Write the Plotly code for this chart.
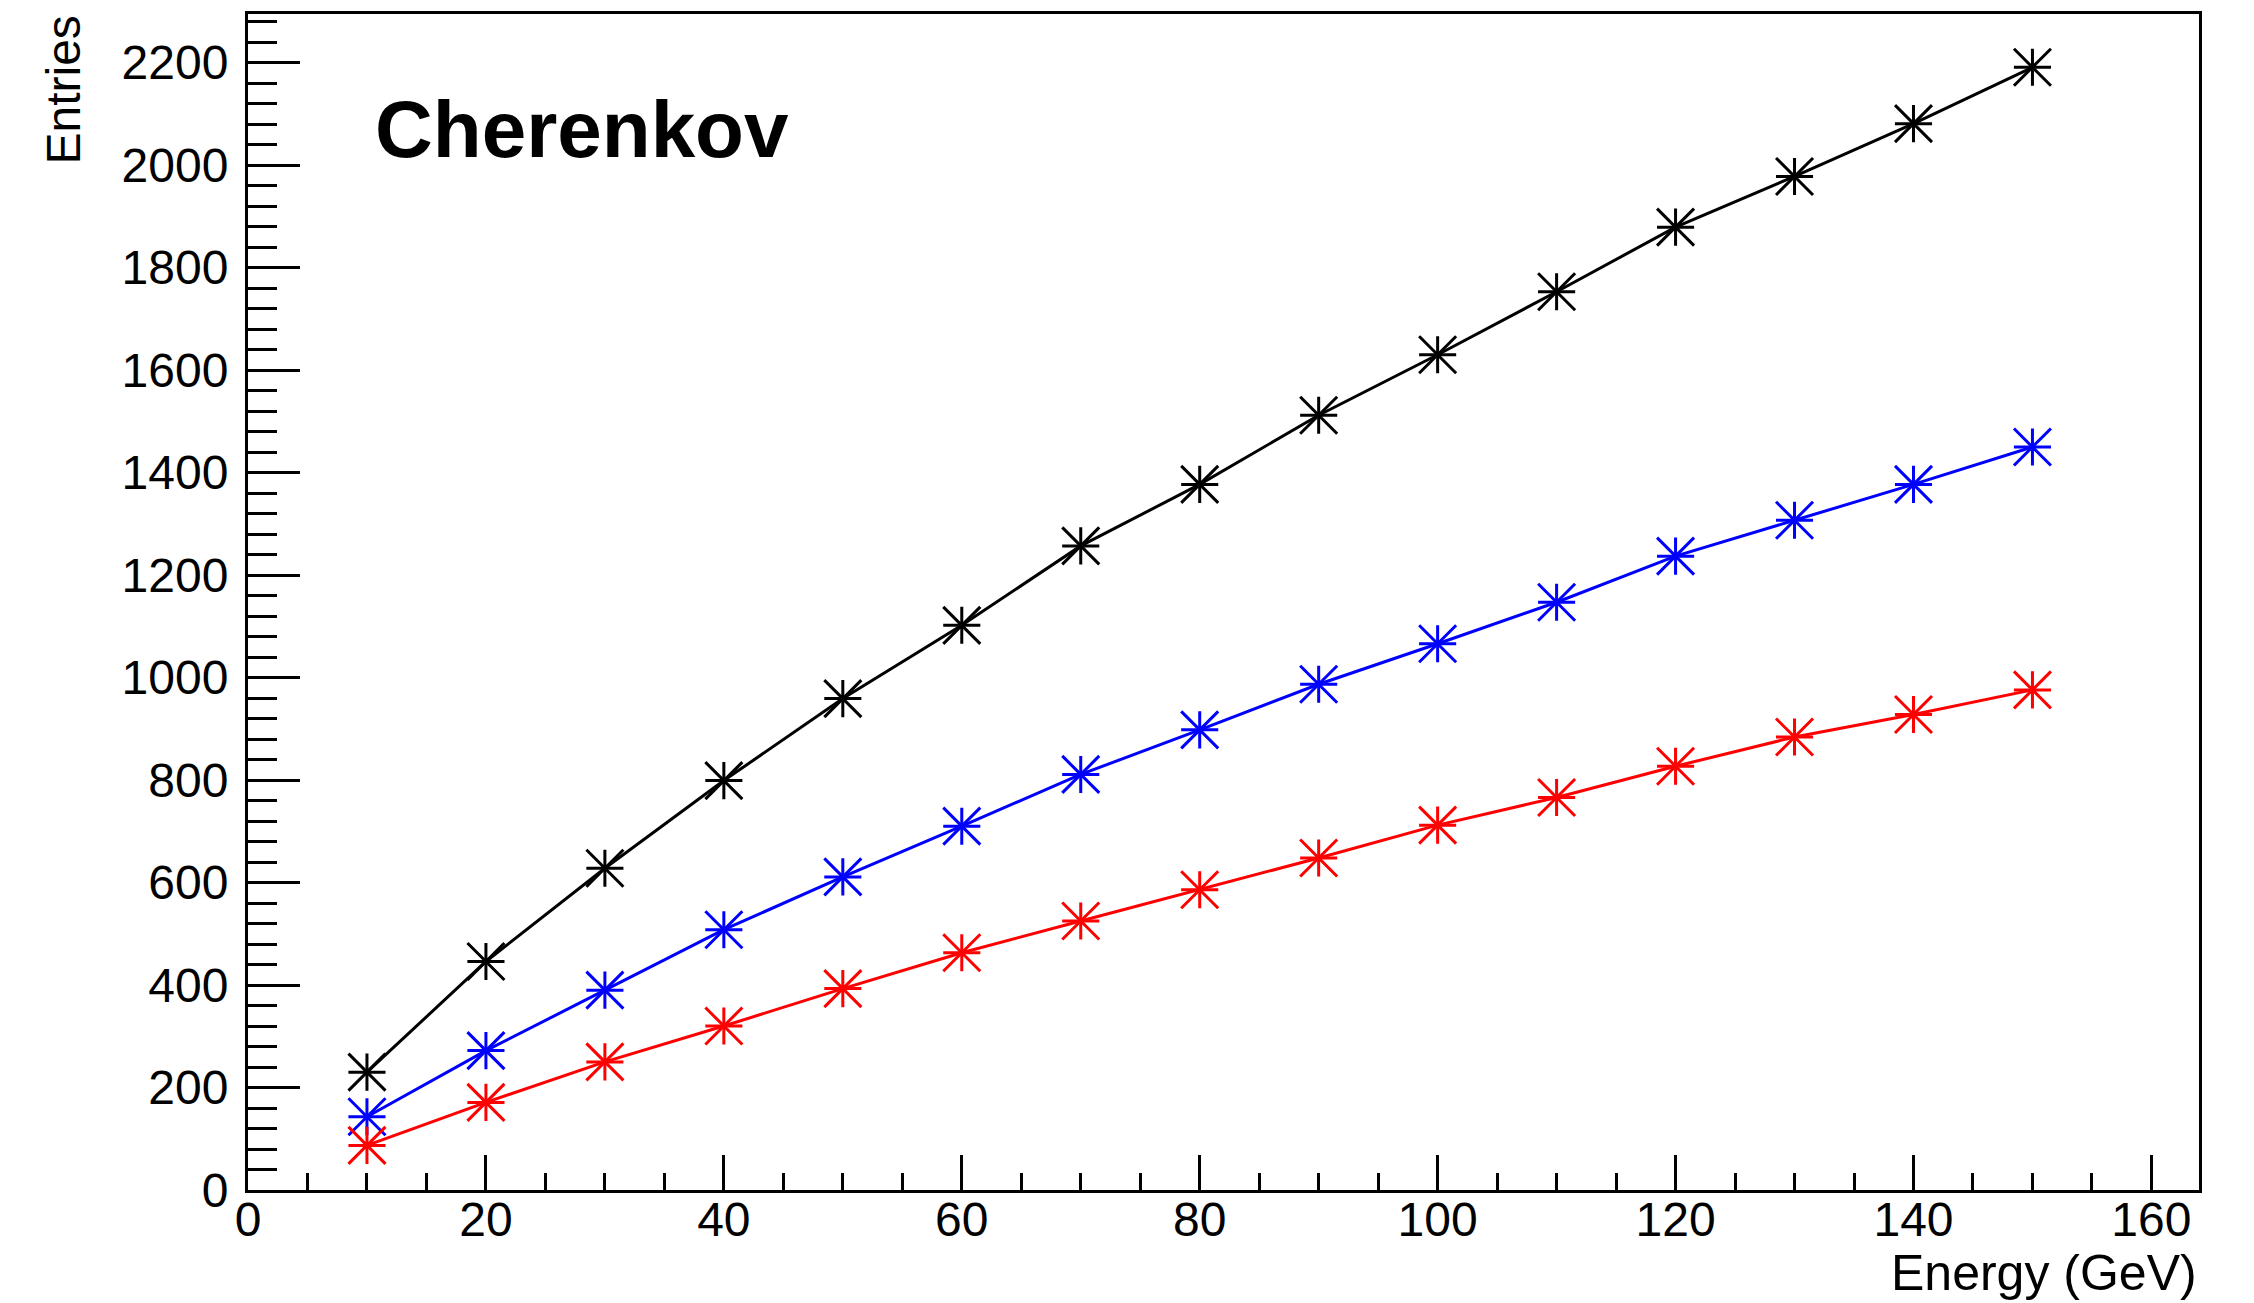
import plotly.graph_objects as go

# Beam energy points (GeV)
energy = [10, 20, 30, 40, 50, 60, 70, 80, 90, 100, 110, 120, 130, 140, 150]

# Cherenkov entries for the three samples
entries_black = [230, 446, 628, 799, 959, 1102, 1257, 1377, 1512, 1630, 1753, 1879, 1978, 2081, 2191]
entries_blue = [143, 272, 390, 508, 611, 710, 811, 898, 987, 1066, 1147, 1237, 1307, 1377, 1450]
entries_red = [87, 171, 250, 320, 393, 463, 525, 586, 648, 712, 766, 827, 884, 928, 976]

series = [
    ("black", entries_black, "#000000"),
    ("blue", entries_blue, "#0000ff"),
    ("red", entries_red, "#ff0000"),
]

FONT = "Liberation Sans, Arial, Helvetica, sans-serif"

fig = go.Figure()
for name, vals, col in series:
    # line plus diagonal arms of the star marker
    fig.add_trace(go.Scatter(
        x=energy, y=vals, mode="lines+markers", name=name,
        line=dict(color=col, width=3),
        marker=dict(symbol="x-thin-open", size=37, color=col,
                    line=dict(width=3, color=col)),
        showlegend=False,
    ))
    # straight arms of the star marker
    fig.add_trace(go.Scatter(
        x=energy, y=vals, mode="markers", name=name,
        marker=dict(symbol="cross-thin-open", size=26.5, color=col,
                    line=dict(width=3, color=col)),
        showlegend=False,
    ))

axis_common = dict(
    showline=True, linecolor="black", linewidth=3, mirror=True,
    showgrid=False, zeroline=False,
    ticks="inside", tickcolor="black", tickwidth=3,
    tickfont=dict(family=FONT, size=48, color="black"),
)

fig.update_xaxes(
    range=[0, 164], tick0=0, dtick=20, ticklen=35, ticklabelstandoff=-15,
    minor=dict(dtick=5, ticklen=17, tickwidth=3, tickcolor="black", ticks="inside"),
    **axis_common,
)
fig.update_yaxes(
    range=[0, 2295], tick0=0, dtick=200, ticklen=52, ticklabelstandoff=7,
    minor=dict(dtick=40, ticklen=29, tickwidth=3, tickcolor="black", ticks="inside"),
    **axis_common,
)

fig.add_annotation(
    text="<b>Cherenkov</b>", xref="paper", yref="paper",
    x=0.064, y=0.902, xanchor="left", yanchor="middle", showarrow=False,
    font=dict(family=FONT, size=80, color="black"),
)
fig.add_annotation(
    text="Entries", xref="paper", yref="paper", textangle=-90,
    x=-0.0948, y=1.0, xanchor="center", yanchor="top", showarrow=False,
    font=dict(family=FONT, size=48, color="black"),
)
fig.add_annotation(
    text="Energy (GeV)", xref="paper", yref="paper",
    x=1.0, y=-0.071, xanchor="right", yanchor="middle", showarrow=False,
    font=dict(family=FONT, size=50, color="black"),
)

fig.update_layout(
    width=2254, height=1303,
    margin=dict(l=248, r=55, t=14, b=113),
    paper_bgcolor="white", plot_bgcolor="white",
)

fig.write_html("out.html")
